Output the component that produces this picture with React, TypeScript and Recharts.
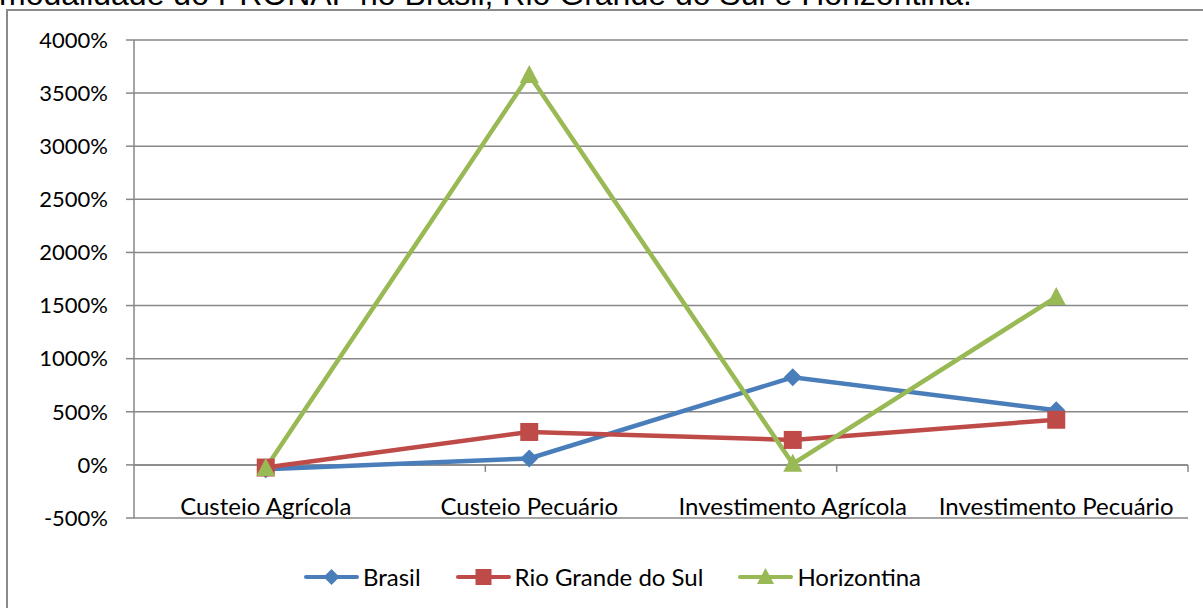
import {
  LineChart,
  Line,
  XAxis,
  YAxis,
  CartesianGrid,
  ReferenceLine,
  Legend,
} from "recharts";

const categories = [
  "Custeio Agrícola",
  "Custeio Pecuário",
  "Investimento Agrícola",
  "Investimento Pecuário",
];
const brasil = [-40, 60, 825, 515];
const rioGrandeDoSul = [-25, 310, 235, 425];
const horizontina = [-30, 3670, 10, 1580];
const yTicks = [-500, 0, 500, 1000, 1500, 2000, 2500, 3000, 3500, 4000];
const boundaries = [1, 2, 3, 4];

const titleText =
  "modalidade do PRONAF no Brasil, Rio Grande do Sul e Horizontina.";

const BLUE = "#4A7EBB";
const RED = "#BE4B48";
const GREEN = "#98B954";
const GRID = "#878787";
const FONT = "Lato, 'Open Sans', sans-serif";

// plot is 1054px wide, half a category band on each side
const HALF_BAND = 1054 / 8;

const series = [
  { key: "brasil", name: "Brasil", color: BLUE, shape: "diamond" },
  { key: "rs", name: "Rio Grande do Sul", color: RED, shape: "square" },
  { key: "horizontina", name: "Horizontina", color: GREEN, shape: "triangle" },
];

const data = categories.map((name, i) => ({
  name,
  brasil: brasil[i],
  rs: rioGrandeDoSul[i],
  horizontina: horizontina[i],
}));

function Marker({ shape, cx, cy, color, size = 9 }: any) {
  if (shape === "diamond") {
    return (
      <polygon
        points={`${cx},${cy - size} ${cx + size},${cy} ${cx},${cy + size} ${cx - size},${cy}`}
        fill={color}
      />
    );
  }
  if (shape === "square") {
    return (
      <rect x={cx - size} y={cy - size} width={size * 2} height={size * 2} fill={color} />
    );
  }
  return (
    <polygon
      points={`${cx},${cy - size - 1} ${cx + size + 0.5},${cy + size - 1} ${cx - size - 0.5},${cy + size - 1}`}
      fill={color}
    />
  );
}

const makeDot = (shape: string, color: string) => (props: any) => {
  const { cx, cy, index } = props;
  if (cx == null || cy == null) return <g key={index} />;
  return (
    <g key={`${shape}-${index}`}>
      <Marker shape={shape} cx={cx} cy={cy} color={color} />
    </g>
  );
};

const CategoryTick = ({ x, y, payload }: any) => (
  <text
    x={x}
    y={y - 3}
    textAnchor="middle"
    fontFamily={FONT}
    fontSize={24}
    fill="#000"
  >
    {payload.value}
  </text>
);

const LegendContent = () => (
  <div style={{ display: "flex", alignItems: "center", fontFamily: FONT, fontSize: 24 }}>
    {series.map((s) => (
      <div key={s.key} style={{ display: "flex", alignItems: "center", marginRight: 35 }}>
        <svg width={55} height={22} style={{ marginRight: 4 }}>
          <line x1={2} y1={11} x2={53} y2={11} stroke={s.color} strokeWidth={4} strokeLinecap="round" />
          <Marker shape={s.shape} cx={27.5} cy={11} color={s.color} size={8} />
        </svg>
        <span style={{ color: "#000" }}>{s.name}</span>
      </div>
    ))}
  </div>
);

export default function App() {
  return (
    <div
      style={{
        position: "absolute",
        left: 0,
        top: 0,
        width: 1203,
        height: 608,
        overflow: "hidden",
        background: "#fff",
      }}
    >
      <div
        style={{
          position: "absolute",
          left: -1,
          top: -22,
          fontFamily: "'Liberation Sans', Arial, sans-serif",
          fontSize: 32,
          lineHeight: "32px",
          whiteSpace: "nowrap",
          color: "#000",
        }}
      >
        {titleText}
      </div>
      <div
        style={{
          position: "absolute",
          left: 6,
          top: 9,
          width: 1300,
          height: 700,
          border: "2px solid #8a8a8a",
          boxSizing: "border-box",
        }}
      />
      <div style={{ position: "absolute", left: 0, top: 0 }}>
        <LineChart
          width={1203}
          height={608}
          data={data}
          margin={{ top: 40, right: 15, left: 0, bottom: 60 }}
        >
          <CartesianGrid vertical={false} stroke={GRID} strokeWidth={1.5} />
          <XAxis
            dataKey="name"
            height={30}
            axisLine={false}
            tickLine={false}
            tickSize={0}
            tickMargin={0}
            interval={0}
            padding={{ left: HALF_BAND, right: HALF_BAND }}
            tick={<CategoryTick />}
          />
          <XAxis xAxisId="pos" type="number" domain={[0, 4]} hide />
          <YAxis
            width={134}
            domain={[-500, 4000]}
            ticks={yTicks}
            interval={0}
            tickFormatter={(v) => `${v}%`}
            axisLine={{ stroke: GRID, strokeWidth: 1.5 }}
            tickLine={{ stroke: GRID, strokeWidth: 1.5 }}
            tickSize={8}
            tickMargin={18}
            tick={{ fill: "#000", fontFamily: FONT, fontSize: 22 }}
          />
          <ReferenceLine y={0} stroke={GRID} strokeWidth={1.5} />
          {boundaries.map((b) => (
            <ReferenceLine
              key={b}
              xAxisId="pos"
              segment={[
                { x: b, y: 0 },
                { x: b, y: -66 },
              ]}
              stroke={GRID}
              strokeWidth={1.5}
            />
          ))}
          <Line
            dataKey="brasil"
            name="Brasil"
            stroke={BLUE}
            strokeWidth={4.5}
            dot={makeDot("diamond", BLUE)}
            activeDot={false}
            isAnimationActive={false}
          />
          <Line
            dataKey="rs"
            name="Rio Grande do Sul"
            stroke={RED}
            strokeWidth={4.5}
            dot={makeDot("square", RED)}
            activeDot={false}
            isAnimationActive={false}
          />
          <Line
            dataKey="horizontina"
            name="Horizontina"
            stroke={GREEN}
            strokeWidth={4.5}
            dot={makeDot("triangle", GREEN)}
            activeDot={false}
            isAnimationActive={false}
          />
          <Legend
            layout="horizontal"
            verticalAlign="middle"
            align="center"
            wrapperStyle={{ top: 562, left: 304, width: "auto" }}
            content={<LegendContent />}
          />
        </LineChart>
      </div>
    </div>
  );
}
